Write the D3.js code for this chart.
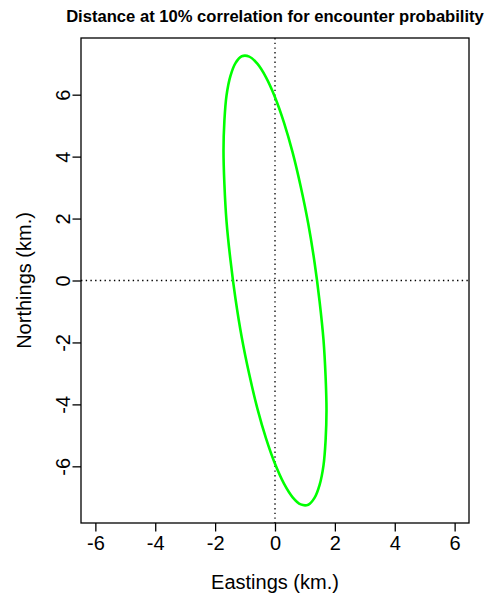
<!DOCTYPE html>
<html>
<head>
<meta charset="utf-8">
<script src="https://cdn.jsdelivr.net/npm/d3@7"></script>
<style>
  html, body { margin: 0; padding: 0; background: #fff; }
  svg { display: block; }
  text { font-family: "Liberation Sans", Arial, sans-serif; fill: #000; }
</style>
</head>
<body>
<script>
// Encounter-probability contour: points around the 10% correlation ellipse (km)
const eastings = [1.72, 1.69, 1.62, 1.49, 1.32, 1.11, 0.86, 0.59, 0.30,
                  0.00, -0.30, -0.59, -0.86, -1.11, -1.32, -1.49, -1.62, -1.69,
                  -1.72, -1.69, -1.62, -1.49, -1.32, -1.11, -0.86, -0.59, -0.30,
                  0.00, 0.30, 0.59, 0.86, 1.11, 1.32, 1.49, 1.62, 1.69];
const northings = [-4.20, -3.11, -1.92, -0.68, 0.59, 1.84, 3.03, 4.13, 5.10,
                   5.92, 6.56, 7.00, 7.23, 7.24, 7.02, 6.60, 5.97, 5.16,
                   4.20, 3.11, 1.92, 0.68, -0.59, -1.84, -3.03, -4.13, -5.10,
                   -5.92, -6.56, -7.00, -7.23, -7.24, -7.02, -6.60, -5.97, -5.16];

// Axis extents and tick values
const xDomain = [-6.48, 6.48];
const yDomain = [-7.83, 7.83];
const xTicks = [-6, -4, -2, 0, 2, 4, 6];
const yTicks = [-6, -4, -2, 0, 2, 4, 6];

const titleText = "Distance at 10% correlation for encounter probability";
const xLabel = "Eastings (km.)";
const yLabel = "Northings (km.)";

const W = 485, H = 599;
const box = { left: 81, right: 469, top: 38, bottom: 523 };

const svg = d3.select("body").append("svg").attr("width", W).attr("height", H);

const x = d3.scaleLinear().domain(xDomain).range([box.left, box.right]);
const y = d3.scaleLinear().domain(yDomain).range([box.bottom, box.top]);

// Plain hyphen-minus for negative tick labels
const fmt = d => String(d);

// Reference lines through the origin
const refs = svg.append("g")
  .attr("stroke", "#000").attr("stroke-width", 1.3)
  .attr("stroke-dasharray", "1.4,3.3");
refs.append("line")
  .attr("x1", x(0)).attr("x2", x(0)).attr("y1", box.top).attr("y2", box.bottom);
refs.append("line")
  .attr("x1", box.left).attr("x2", box.right).attr("y1", y(0)).attr("y2", y(0));

// Contour
const pts = eastings.map((e, i) => [e, northings[i]]);
const line = d3.line().x(d => x(d[0])).y(d => y(d[1])).curve(d3.curveCatmullRomClosed);
svg.append("path")
  .attr("d", line(pts))
  .attr("fill", "none")
  .attr("stroke", "#00ff00")
  .attr("stroke-width", 2.6);

// Plot frame
svg.append("rect")
  .attr("x", box.left).attr("y", box.top)
  .attr("width", box.right - box.left).attr("height", box.bottom - box.top)
  .attr("fill", "none").attr("stroke", "#000").attr("stroke-width", 1.3);

// Bottom axis
const xAxis = d3.axisBottom(x).tickValues(xTicks).tickSize(8.5).tickPadding(5)
  .tickFormat(fmt);
const gx = svg.append("g").attr("transform", `translate(0,${box.bottom})`).call(xAxis);
gx.select(".domain").remove();
gx.selectAll(".tick line").attr("stroke", "#000").attr("stroke-width", 1.3);
gx.selectAll(".tick text")
  .attr("font-size", 20).attr("font-family", "Liberation Sans, Arial, sans-serif")
  .attr("fill", "#000").attr("dy", null).attr("y", 27);

// Left axis, labels turned parallel to the axis
const yAxis = d3.axisLeft(y).tickValues(yTicks).tickSize(8.5).tickPadding(5)
  .tickFormat(fmt);
const gy = svg.append("g").attr("transform", `translate(${box.left},0)`).call(yAxis);
gy.select(".domain").remove();
gy.selectAll(".tick line").attr("stroke", "#000").attr("stroke-width", 1.3);
gy.selectAll(".tick text")
  .attr("font-size", 20).attr("font-family", "Liberation Sans, Arial, sans-serif")
  .attr("fill", "#000")
  .attr("x", null).attr("dy", null)
  .attr("text-anchor", "middle")
  .attr("transform", "translate(-11,0) rotate(-90)");

// Title and axis titles
svg.append("text")
  .attr("x", (box.left + box.right) / 2).attr("y", 22)
  .attr("text-anchor", "middle")
  .attr("font-size", 16.6).attr("font-weight", "bold")
  .text(titleText);

svg.append("text")
  .attr("x", (box.left + box.right) / 2).attr("y", 589)
  .attr("text-anchor", "middle")
  .attr("font-size", 20)
  .text(xLabel);

svg.append("text")
  .attr("transform", `translate(31,${(box.top + box.bottom) / 2}) rotate(-90)`)
  .attr("text-anchor", "middle")
  .attr("font-size", 20)
  .text(yLabel);
</script>
</body>
</html>
